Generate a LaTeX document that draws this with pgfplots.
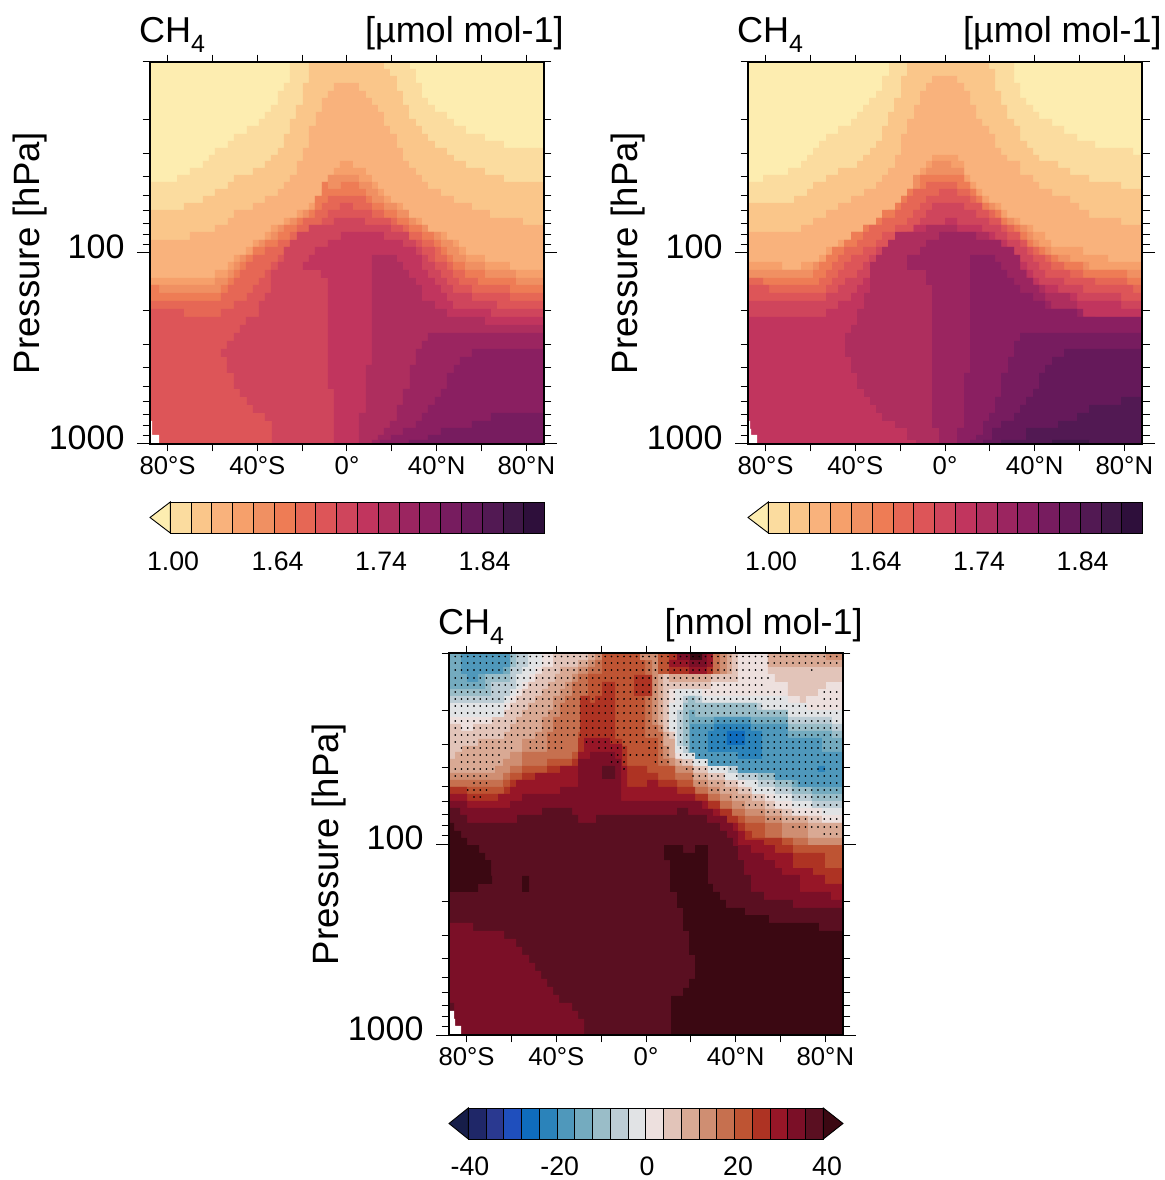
\documentclass[border=0pt]{standalone}
\usepackage{pgfplots}
\usepackage{pgfplotstable}
\pgfplotsset{compat=1.18}
\usepackage{fontspec}
\setmainfont{Liberation Sans}
\definecolor{m0}{HTML}{FDEDB0}\definecolor{m1}{HTML}{FBDC9F}\definecolor{m2}{HTML}{FAC68A}\definecolor{m3}{HTML}{F9B27C}
\definecolor{m4}{HTML}{F6A06B}\definecolor{m5}{HTML}{F09062}\definecolor{m6}{HTML}{EE7C55}\definecolor{m7}{HTML}{E66755}
\definecolor{m8}{HTML}{DD5558}\definecolor{m9}{HTML}{CF455C}\definecolor{m10}{HTML}{C1355E}\definecolor{m11}{HTML}{AE2E5E}
\definecolor{m12}{HTML}{9B2560}\definecolor{m13}{HTML}{8A1F61}\definecolor{m14}{HTML}{771C5F}\definecolor{m15}{HTML}{65195A}
\definecolor{m16}{HTML}{521953}\definecolor{m17}{HTML}{3F1747}\definecolor{m18}{HTML}{2E0F3B}
\definecolor{b0}{HTML}{161D49}\definecolor{b1}{HTML}{1F2768}\definecolor{b2}{HTML}{2A3990}\definecolor{b3}{HTML}{1F4FBD}
\definecolor{b4}{HTML}{0F6CBD}\definecolor{b5}{HTML}{2B83BA}\definecolor{b6}{HTML}{4F98BB}\definecolor{b7}{HTML}{74ABBF}
\definecolor{b8}{HTML}{9ABDC8}\definecolor{b9}{HTML}{BDCDD5}\definecolor{b10}{HTML}{E1E3E5}\definecolor{b11}{HTML}{EDE0DE}
\definecolor{b12}{HTML}{E2C4B9}\definecolor{b13}{HTML}{D9A994}\definecolor{b14}{HTML}{CF8E72}\definecolor{b15}{HTML}{C6704F}
\definecolor{b16}{HTML}{BE5433}\definecolor{b17}{HTML}{AE3323}\definecolor{b18}{HTML}{971627}\definecolor{b19}{HTML}{7B0F27}
\definecolor{b20}{HTML}{5A0F21}\definecolor{b21}{HTML}{3B0812}
\newcommand\tfs{\fontsize{36}{40}\selectfont}
\newcommand\pfs{\fontsize{36.6}{40}\selectfont}
\newcommand\yfs{\fontsize{34}{40}\selectfont}
\newcommand\xfs{\fontsize{25.7}{30}\selectfont}
\newcommand\cfs{\fontsize{26.7}{30}\selectfont}
\pgfplotsset{mypanel/.style={scale only axis,width=394pt,height=382pt,anchor=south west,
  xmin=-87.86,xmax=87.86,ymin=10,ymax=1000,y dir=reverse,axis on top,clip mode=individual,
  xtick={-80,-60,-40,-20,0,20,40,60,80},xticklabels={80°S,,40°S,,0°,,40°N,,80°N},
  ytick={10,20,30,40,50,60,70,80,90,200,300,400,500,600,700,800,900},yticklabels={,,,,,,,,,,,,,,,,},
  extra y ticks={100,1000},extra y tick labels={100,1000},
  extra y tick style={major tick length=13pt},
  tick align=outside,xtick pos=both,ytick pos=both,
  axis line style={line width=1.2pt,black},
  tick style={line width=1pt,black},
  major tick length=7.5pt,
  xticklabel style={font=\xfs,yshift=-2pt},
  yticklabel style={font=\yfs,yshift=6pt,xshift=-9pt}},
  mybar/.style={scale only axis,width=394pt,height=31pt,anchor=south west,xmin=0,xmax=394,ymin=0,ymax=1,hide axis,clip=false}}
\newcommand\B[2]{\addplot[fill=#1,draw=none,const plot,forget plot] table[header=false,row sep=crcr,x expr=-87.86+\thisrowno{0}*0.44599,y expr=10^(1+\thisrowno{1}/191)] {#2};}
\newcommand\U[2]{\B{#1}{0 382\\#2 394 382\\}}
\newcommand\Bx[3]{\addplot[fill=#3,draw=black,line width=.9pt,forget plot] coordinates {(#1,0)(#2,0)(#2,1)(#1,1)} --cycle;}
\newcommand\heads[1]{%
  \node[anchor=base west,inner sep=0pt,font=\tfs] at (axis description cs:0,1) [xshift=-11pt,yshift=19pt] {CH\raisebox{-10pt}{\fontsize{25}{25}\selectfont 4}};
  \node[anchor=base east,inner sep=0pt,font=\tfs] at (axis description cs:1,1) [xshift=20pt,yshift=19pt] {[#1 mol-1]};
  \node[xshift=-120pt,rotate=90,inner sep=0pt,font=\pfs] at (axis description cs:0,.5) {Pressure [hPa]};}
\newcommand\matterbar{%
  \addplot[fill=m0,draw=black,line width=.9pt,forget plot] coordinates {(0,.5)(20.3,1)(20.3,0)} --cycle;
  \Bx{20.3}{41.1}{m1}\Bx{41.1}{61.9}{m2}\Bx{61.9}{82.7}{m3}\Bx{82.7}{103.5}{m4}\Bx{103.5}{124.3}{m5}\Bx{124.3}{145.1}{m6}
  \Bx{145.1}{165.9}{m7}\Bx{165.9}{186.7}{m8}\Bx{186.7}{207.5}{m9}\Bx{207.5}{228.3}{m10}\Bx{228.3}{249.1}{m11}\Bx{249.1}{269.9}{m12}
  \Bx{269.9}{290.7}{m13}\Bx{290.7}{311.5}{m14}\Bx{311.5}{332.3}{m15}\Bx{332.3}{353.1}{m16}\Bx{353.1}{373.9}{m17}\Bx{373.9}{394}{m18}
  \node[inner sep=0pt,font=\cfs] at (axis cs:23,-.9) {1.00};\node[inner sep=0pt,font=\cfs] at (axis cs:127.6,-.9) {1.64};
  \node[inner sep=0pt,font=\cfs] at (axis cs:231,-.9) {1.74};\node[inner sep=0pt,font=\cfs] at (axis cs:334.5,-.9) {1.84};}
\pgfplotstableread[row sep=crcr,header=false]{-87.86\\-85.10\\-82.31\\-79.53\\-76.74\\-73.95\\-71.16\\-68.37\\-65.58\\-62.79\\-60.00\\-57.21\\-54.42\\-51.63\\-48.84\\-46.05\\-43.25\\-40.46\\-37.67\\-34.88\\-32.09\\-29.30\\-26.51\\-23.72\\-20.93\\-18.14\\-15.35\\-12.56\\-9.77\\-6.98\\-4.19\\-1.40\\1.40\\4.19\\6.98\\9.77\\12.56\\15.35\\18.14\\20.93\\23.72\\26.51\\29.30\\32.09\\34.88\\37.67\\40.46\\43.25\\46.05\\48.84\\51.63\\54.42\\57.21\\60.00\\62.79\\65.58\\68.37\\71.16\\73.95\\76.74\\79.53\\82.31\\85.10\\87.86\\}\dotlat
\newcommand\D[3]{\addplot[only marks,mark=*,mark size=.62pt,black,forget plot,restrict x to domain=#2:#3] table[x index=0,y index=0,x expr=\thisrowno{0},y expr=10^(1+#1/191)] {\dotlat};}
\begin{document}
\begin{tikzpicture}
\path[use as bounding box] (0,0) rectangle (1164pt,1180pt);
% ---------- panel 1
\begin{semilogyaxis}[mypanel,at={(150pt,736pt)}]
\B{m0}{0 382\\0 0\\394 382\\}
\U{m1}{0 120\\27 113\\40 106\\53 99\\59 93\\65 86\\78 79\\84 72\\97 64\\109 57\\115 50\\121 43\\128 29\\134 21\\140 0\\260 7\\266 21\\272 36\\278 43\\285 50\\297 57\\304 64\\316 72\\335 79\\354 86\\}
\U{m2}{0 148\\34 141\\53 134\\65 127\\78 120\\84 113\\103 106\\115 99\\121 93\\128 86\\134 72\\140 57\\146 43\\153 21\\159 0\\234 7\\240 14\\247 29\\253 43\\259 57\\266 64\\272 72\\278 79\\285 86\\297 93\\304 99\\316 106\\335 113\\354 120\\}
\U{m3}{0 178\\40 170\\65 163\\78 156\\84 148\\103 141\\115 134\\128 127\\134 120\\140 113\\147 99\\153 86\\159 64\\166 50\\172 36\\178 29\\184 21\\209 29\\216 36\\222 43\\228 50\\234 64\\240 72\\247 86\\253 99\\259 106\\266 113\\272 120\\278 127\\291 134\\304 141\\322 148\\340 156\\373 163\\}
\U{m4}{0 216\\65 208\\78 200\\84 193\\96 185\\103 178\\115 170\\121 163\\134 156\\147 148\\159 141\\165 134\\172 120\\178 113\\184 106\\190 99\\203 106\\216 113\\222 120\\228 127\\234 134\\241 141\\253 148\\259 156\\272 163\\278 170\\297 178\\309 185\\316 193\\335 200\\360 208\\}
\U{m5}{0 223\\65 216\\78 208\\84 200\\90 193\\103 185\\109 178\\121 170\\128 163\\140 156\\153 148\\165 141\\172 127\\178 113\\209 120\\222 127\\228 134\\234 141\\247 148\\259 156\\266 163\\278 170\\291 178\\303 185\\309 193\\316 200\\335 208\\366 216\\}
\U{m6}{0 223\\9 231\\71 223\\78 216\\84 208\\90 200\\96 193\\103 185\\115 178\\128 170\\134 163\\147 156\\159 148\\165 134\\172 120\\178 127\\191 120\\209 127\\216 134\\222 141\\234 148\\247 156\\259 163\\272 170\\284 178\\291 185\\297 193\\303 200\\315 208\\335 216\\366 223\\}
\U{m7}{0 239\\71 231\\78 223\\84 216\\90 208\\96 200\\103 193\\115 185\\128 178\\140 170\\147 163\\153 156\\165 148\\172 141\\178 134\\216 141\\222 148\\234 156\\247 163\\259 170\\272 178\\284 185\\291 193\\297 200\\303 208\\315 216\\328 223\\360 231\\}
\U{m8}{0 247\\34 255\\71 247\\84 239\\97 231\\103 223\\109 216\\115 208\\121 200\\128 193\\134 185\\147 178\\153 170\\159 163\\172 156\\178 148\\190 141\\203 148\\222 156\\241 163\\253 170\\259 178\\272 185\\285 200\\297 208\\303 216\\309 223\\322 231\\360 239\\}
\B{m9}{122 382\\122 359\\115 351\\103 343\\97 335\\90 327\\84 311\\77 295\\71 287\\77 279\\84 271\\90 263\\96 255\\109 239\\115 231\\121 208\\128 200\\134 185\\140 178\\147 170\\159 163\\184 156\\215 163\\241 170\\259 178\\266 185\\272 193\\278 200\\285 208\\291 216\\297 223\\303 231\\322 239\\347 247\\394 382\\}
\B{m10}{184 382\\184 327\\178 216\\171 208\\153 200\\159 193\\165 185\\178 178\\191 170\\234 178\\253 185\\266 193\\272 208\\278 216\\285 223\\291 231\\297 239\\303 247\\341 255\\394 382\\}
\B{m11}{209 382\\209 351\\216 303\\222 193\\247 200\\253 208\\259 216\\266 223\\272 239\\285 247\\297 255\\335 263\\394 382\\}
\B{m12}{222 382\\222 378\\228 373\\234 366\\240 359\\247 343\\253 327\\260 303\\266 287\\272 279\\278 271\\394 382\\}
\B{m13}{230 382\\230 378\\241 373\\253 366\\266 359\\272 351\\278 343\\285 335\\291 327\\297 311\\304 303\\310 295\\322 287\\394 382\\}
\B{m14}{259 382\\259 378\\278 373\\291 366\\322 359\\341 351\\394 382\\}
\B{white}{0 382\\0 359\\2 373\\9 382\\}
\heads{µmol}
\end{semilogyaxis}
\begin{axis}[mybar,at={(150pt,647pt)}]
\matterbar
\end{axis}
% ---------- panel 2
\begin{semilogyaxis}[mypanel,at={(748pt,736pt)}]
\B{m0}{0 382\\0 0\\394 382\\}
\U{m1}{0 120\\15 113\\40 106\\53 99\\59 93\\65 86\\71 79\\78 72\\90 64\\103 57\\109 50\\115 43\\121 36\\128 29\\134 14\\141 0\\266 21\\272 36\\278 43\\285 50\\291 57\\304 64\\316 72\\329 79\\347 86\\385 93\\}
\U{m2}{0 141\\46 134\\59 127\\65 120\\78 113\\90 106\\109 99\\115 93\\122 86\\128 79\\134 64\\140 50\\146 36\\153 14\\159 0\\241 7\\247 29\\253 43\\259 57\\266 64\\272 79\\279 86\\285 93\\291 99\\310 106\\322 113\\341 120\\373 127\\}
\U{m3}{0 170\\53 163\\65 156\\78 148\\90 141\\103 134\\116 127\\128 120\\134 113\\140 106\\147 93\\153 72\\159 57\\166 43\\172 29\\178 21\\184 14\\209 21\\216 29\\222 43\\228 57\\234 64\\241 72\\247 86\\253 93\\259 99\\272 113\\285 120\\291 127\\304 134\\322 141\\331 148\\341 156\\373 163\\}
\U{m4}{0 200\\34 208\\53 200\\71 193\\78 185\\90 178\\103 170\\115 163\\128 156\\140 148\\147 141\\153 134\\159 127\\165 120\\172 106\\178 99\\184 93\\210 99\\216 113\\222 120\\228 127\\234 134\\241 141\\253 148\\259 156\\272 163\\285 170\\297 178\\303 185\\335 193\\360 200\\}
\U{m5}{0 208\\65 200\\71 200\\78 193\\84 185\\96 178\\103 170\\115 163\\128 156\\140 148\\147 141\\153 134\\159 127\\165 113\\178 106\\184 99\\203 106\\216 120\\222 127\\228 134\\234 141\\247 148\\253 156\\266 163\\279 170\\285 178\\291 185\\303 193\\322 200\\341 208\\}
\U{m6}{0 216\\65 208\\71 200\\78 193\\84 185\\96 178\\103 170\\115 163\\128 156\\134 148\\147 141\\153 134\\159 127\\172 113\\216 120\\222 127\\228 134\\234 141\\241 148\\253 156\\259 163\\272 170\\279 178\\285 185\\297 193\\310 200\\335 208\\379 216\\}
\U{m7}{0 216\\15 223\\71 216\\78 208\\84 200\\90 193\\96 185\\109 178\\115 170\\121 163\\134 156\\147 148\\153 141\\159 134\\165 127\\178 120\\209 127\\222 134\\228 141\\234 148\\247 156\\253 163\\266 170\\272 178\\279 185\\291 193\\303 200\\316 208\\335 216\\379 223\\}
\U{m8}{0 223\\21 231\\78 223\\84 216\\90 208\\96 200\\103 193\\115 185\\128 178\\134 170\\147 163\\159 156\\165 148\\172 141\\178 134\\191 127\\209 134\\222 141\\234 148\\241 156\\253 163\\259 170\\272 178\\279 185\\285 193\\297 200\\303 208\\322 216\\347 223\\385 231\\}
\U{m9}{0 239\\78 231\\90 223\\97 216\\109 208\\115 200\\121 193\\128 185\\140 178\\153 170\\165 163\\172 156\\178 148\\184 141\\216 148\\228 156\\241 163\\253 170\\259 178\\272 185\\279 193\\285 200\\291 208\\297 216\\316 223\\335 231\\373 239\\}
\U{m10}{0 255\\78 247\\90 239\\103 231\\109 223\\115 216\\122 208\\128 200\\134 193\\140 185\\153 178\\159 170\\166 163\\197 156\\209 163\\234 170\\247 178\\259 185\\266 193\\272 200\\279 208\\285 216\\291 223\\310 231\\329 239\\373 247\\}
\B{m11}{168 382\\168 378\\159 366\\147 359\\134 351\\128 343\\122 335\\116 327\\109 311\\103 295\\97 271\\103 263\\109 247\\116 231\\122 200\\128 193\\134 185\\140 178\\147 170\\178 163\\209 170\\241 178\\253 185\\259 193\\266 200\\272 208\\279 216\\285 223\\297 231\\322 239\\329 255\\394 382\\}
\B{m12}{191 382\\191 366\\184 223\\178 208\\159 193\\172 185\\178 178\\191 170\\228 178\\253 185\\266 193\\272 208\\278 216\\285 223\\291 231\\297 239\\303 247\\335 255\\347 263\\394 382\\}
\B{m13}{209 382\\209 366\\216 311\\222 193\\247 200\\253 208\\259 216\\266 223\\272 231\\285 239\\297 247\\329 255\\394 382\\}
\B{m14}{222 382\\222 378\\228 373\\235 359\\241 351\\247 335\\253 311\\260 295\\266 279\\272 271\\394 382\\}
\B{m15}{235 382\\235 378\\244 366\\253 359\\266 351\\272 343\\278 335\\285 327\\291 311\\297 303\\304 295\\316 287\\394 382\\}
\B{m16}{253 382\\253 378\\278 366\\310 359\\329 351\\341 343\\373 335\\394 382\\}
\B{m17}{304 382\\304 378\\341 382\\}
\B{white}{0 382\\0 359\\2 367\\3 373\\9 382\\}
\heads{µmol}
\end{semilogyaxis}
\begin{axis}[mybar,at={(748pt,647pt)}]
\matterbar
\end{axis}
% ---------- panel 3
\begin{semilogyaxis}[mypanel,at={(449pt,145pt)}]
\B{b11}{0 382\\0 0\\394 382\\}
\U{b12}{0 71\\12 78\\24 71\\43 64\\55 57\\61 50\\67 43\\73 36\\79 29\\86 21\\93 14\\104 0\\220 79\\226 106\\244 113\\259 120\\276 127\\289 134\\303 141\\316 148\\326 156\\343 163\\373 170\\}
\U{b13}{0 106\\6 99\\13 93\\29 86\\55 79\\61 71\\67 64\\73 57\\79 50\\86 43\\93 36\\99 29\\106 21\\111 14\\129 7\\139 0\\214 79\\220 86\\226 106\\233 113\\244 120\\259 127\\276 134\\289 141\\303 148\\316 156\\333 163\\359 170\\}
\U{b14}{0 120\\46 113\\54 106\\61 99\\73 86\\86 79\\93 64\\99 57\\104 43\\111 36\\116 29\\123 21\\129 14\\139 7\\146 0\\209 72\\214 93\\220 105\\226 113\\244 127\\259 134\\271 141\\283 148\\296 156\\316 163\\333 170\\359 185\\}
\U{b15}{0 127\\54 120\\61 113\\73 99\\98 79\\104 64\\111 50\\116 43\\123 29\\129 21\\139 14\\146 7\\153 0\\203 72\\209 79\\214 106\\220 113\\226 120\\244 134\\259 141\\271 148\\283 156\\296 163\\316 170\\333 185\\359 193\\}
\U{b16}{0 134\\54 127\\61 120\\73 113\\98 106\\123 99\\129 79\\131 43\\139 21\\153 0\\196 85\\209 113\\226 127\\244 141\\259 148\\271 156\\283 163\\296 170\\316 185\\344 192\\}
\B{b14}{191 7\\191 0\\209 7\\}
\B{b17}{185 43\\185 22\\203 43\\}
\U{b17}{0 134\\18 141\\55 134\\61 127\\73 120\\98 113\\123 106\\129 85\\131 43\\141 50\\146 43\\153 29\\166 86\\173 93\\178 113\\198 120\\209 127\\228 134\\246 141\\259 148\\271 156\\283 163\\289 170\\296 178\\303 185\\333 192\\344 200\\376 215\\}
\U{b18}{0 141\\18 148\\49 141\\61 134\\67 127\\86 120\\111 113\\129 99\\135 85\\161 91\\173 113\\178 134\\198 127\\209 134\\228 141\\246 148\\259 156\\271 163\\278 170\\289 178\\296 187\\315 192\\326 200\\344 215\\364 222\\376 231\\}
\U{b19}{0 148\\18 155\\61 148\\73 141\\111 134\\129 106\\141 99\\166 106\\172 148\\253 156\\264 163\\278 170\\284 178\\289 192\\302 200\\315 207\\326 215\\333 222\\351 239\\382 247\\}
\B{b20}{153 126\\153 113\\166 126\\}
\U{b20}{0 155\\11 162\\18 170\\68 162\\93 155\\123 162\\129 170\\147 162\\228 155\\239 162\\258 170\\271 178\\278 185\\284 193\\289 207\\295 222\\302 239\\315 247\\344 255\\}
\B{b19}{0 382\\0 270\\24 278\\55 286\\67 294\\73 302\\80 310\\86 318\\92 326\\98 334\\104 342\\110 350\\123 358\\129 366\\135 382\\}
\B{b21}{0 239\\0 170\\5 178\\12 185\\18 192\\30 200\\36 207\\42 223\\43 231\\29 239\\0 239\\}
\B{b21}{73 239\\73 223\\80 239\\}
\B{b21}{222 382\\222 343\\234 335\\240 326\\246 302\\240 278\\234 255\\228 239\\221 207\\215 192\\234 200\\246 192\\259 231\\264 239\\271 247\\277 255\\296 262\\320 270\\370 278\\394 382\\}
\B{b20}{0 358\\0 350\\5 358\\}
\B{white}{0 382\\0 358\\5 366\\6 373\\12 382\\}
% roof over the blue tongue
\B{b12}{220 36\\220 0\\289 29\\262 36\\220 36\\}
\B{b13}{220 29\\220 0\\283 21\\262 29\\220 29\\}
\B{b14}{220 21\\220 0\\278 21\\}
\B{b15}{209 21\\209 0\\271 21\\}
\B{b16}{209 21\\209 0\\264 21\\}
\B{b17}{220 21\\220 0\\264 21\\}
\B{b18}{220 14\\220 7\\228 0\\264 14\\258 21\\240 14\\220 14\\}
\B{b19}{228 7\\228 0\\258 14\\240 7\\228 7\\}
\B{b21}{241 7\\241 0\\253 7\\}
% pale patch upper right
\B{b12}{319 21\\319 0\\394 29\\377 36\\369 43\\357 50\\351 43\\339 29\\326 21\\319 21\\}
\B{b13}{319 14\\319 0\\394 14\\}
\B{b14}{377 7\\377 0\\394 7\\}
% blue, upper left
\B{b10}{0 64\\0 0\\93 14\\86 21\\80 29\\73 36\\67 43\\61 50\\55 64\\0 64\\}
\B{b9}{0 50\\0 0\\79 14\\73 21\\67 36\\61 43\\55 50\\0 50\\}
\B{b8}{0 43\\0 0\\67 14\\61 29\\42 43\\0 43\\}
\B{b7}{0 36\\0 0\\61 21\\36 36\\0 36\\}
\B{b6}{12 21\\12 0\\61 14\\54 21\\29 29\\18 21\\12 21\\}
% blue tongue, right
\B{b10}{220 78\\220 50\\226 36\\253 43\\339 50\\358 57\\394 162\\373 155\\343 148\\326 141\\303 134\\296 127\\276 120\\259 113\\244 106\\233 100\\226 78\\220 78\\}
\B{b9}{228 93\\228 57\\234 43\\253 50\\313 57\\339 64\\383 71\\394 155\\363 148\\343 141\\326 134\\309 127\\289 120\\279 113\\259 106\\246 100\\234 93\\228 93\\}
\B{b8}{234 93\\234 50\\239 43\\246 50\\308 57\\339 71\\383 78\\394 148\\363 141\\343 134\\326 127\\309 120\\289 113\\279 106\\259 100\\239 93\\234 93\\}
\B{b7}{240 93\\240 57\\246 64\\339 78\\383 85\\394 141\\363 134\\343 127\\326 120\\289 113\\259 106\\246 100\\240 93\\}
\B{b6}{241 93\\241 71\\265 64\\302 71\\339 85\\373 99\\394 134\\349 127\\326 120\\289 113\\259 106\\246 99\\241 93\\}
\B{b5}{259 92\\259 78\\265 71\\302 78\\313 106\\289 99\\259 92\\}
\B{b5}{369 119\\369 113\\376 119\\}
\B{b4}{278 92\\278 78\\296 92\\}
% stippling
\D{3.5}{-88}{88}\D{10}{-88}{88}
\D{17}{-88}{52}\D{17}{73}{76}\D{25}{-88}{57}\D{32}{-88}{52}
\D{39}{-88}{60}\D{39}{78}{88}\D{46}{-88}{61}\D{46}{78}{88}
\D{53}{-88}{88}\D{60}{-88}{88}\D{68}{-88}{88}\D{75}{-88}{88}\D{82}{-88}{88}
\D{89}{-87}{-58}\D{89}{-54}{-36}\D{89}{-27}{8.5}\D{89}{14}{88}
\D{95}{-85}{-58}\D{95}{-52}{-37}\D{95}{-21}{-9}\D{95}{-0.5}{10}\D{95}{14}{88}
\D{102}{-85}{-64}\D{102}{-18}{-9}\D{102}{-8}{10}\D{102}{14}{88}
\D{109}{-85}{-64}\D{109}{-18}{-9}\D{109}{4}{10}\D{109}{14}{88}
\D{116}{-87}{-67}\D{116}{-12}{-9}\D{116}{16}{88}
\D{123}{-87}{-70}\D{123}{20}{35}\D{123}{38}{88}
\D{130}{-79}{-70}\D{130}{23}{44}\D{130}{47}{88}
\D{137}{-81}{-70}\D{137}{29}{88}
\D{144}{-79}{-72}\D{144}{35}{88}
\D{152}{41}{88}\D{159}{49}{81}\D{166}{53}{88}\D{174}{64}{88}\D{181}{78}{88}
\heads{nmol}
\end{semilogyaxis}
\begin{axis}[mybar,at={(449pt,41pt)}]
\addplot[fill=b0,draw=black,line width=.9pt,forget plot] coordinates {(0,.5)(19.3,1)(19.3,0)} --cycle;
\Bx{19.3}{37.1}{b1}\Bx{37.1}{54.8}{b2}\Bx{54.8}{72.6}{b3}\Bx{72.6}{90.3}{b4}\Bx{90.3}{108.1}{b5}\Bx{108.1}{125.8}{b6}\Bx{125.8}{143.6}{b7}
\Bx{143.6}{161.3}{b8}\Bx{161.3}{179.1}{b9}\Bx{179.1}{196.8}{b10}\Bx{196.8}{214.6}{b11}\Bx{214.6}{232.3}{b12}\Bx{232.3}{250.1}{b13}
\Bx{250.1}{267.8}{b14}\Bx{267.8}{285.6}{b15}\Bx{285.6}{303.3}{b16}\Bx{303.3}{321.1}{b17}\Bx{321.1}{338.8}{b18}\Bx{338.8}{356.6}{b19}\Bx{356.6}{374.3}{b20}
\addplot[fill=b21,draw=black,line width=.9pt,forget plot] coordinates {(394,.5)(374.3,1)(374.3,0)} --cycle;
\node[inner sep=0pt,font=\cfs] at (axis cs:21,-.87) {-40};\node[inner sep=0pt,font=\cfs] at (axis cs:110.7,-.87) {-20};
\node[inner sep=0pt,font=\cfs] at (axis cs:198,-.87) {0};\node[inner sep=0pt,font=\cfs] at (axis cs:289,-.87) {20};\node[inner sep=0pt,font=\cfs] at (axis cs:378,-.87) {40};
\end{axis}
\end{tikzpicture}
\end{document}
